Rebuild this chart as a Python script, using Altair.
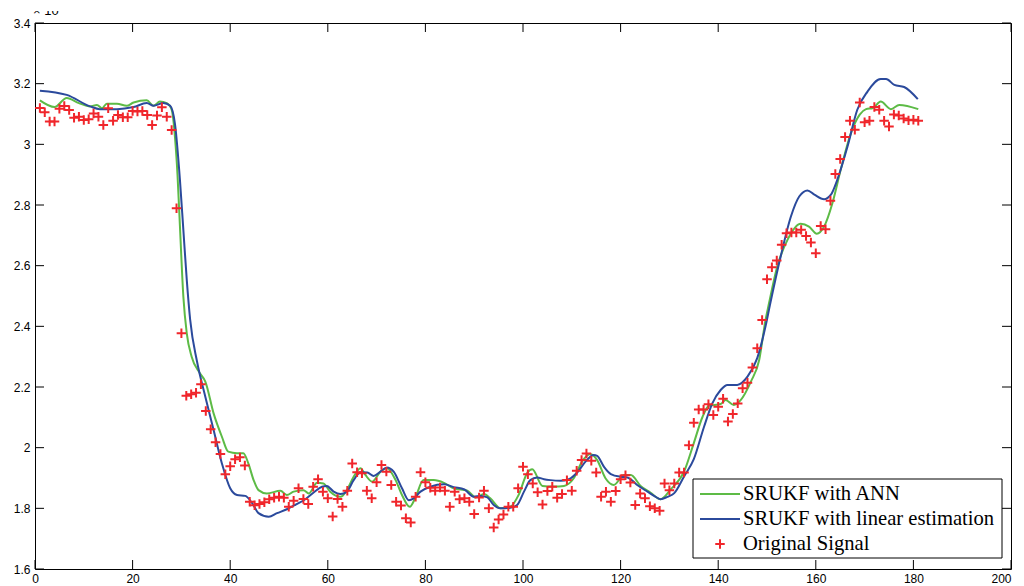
import altair as alt
import pandas as pd

# ---------------- data ----------------
series_names = ["SRUKF with ANN", "SRUKF with linear estimation", "Original Signal"]

x_ticks = [0, 20, 40, 60, 80, 100, 120, 140, 160, 180, 200]
y_ticks = [1.6, 1.8, 2.0, 2.2, 2.4, 2.6, 2.8, 3.0, 3.2, 3.4]

sig_x = list(range(1, 182))
sig_y = [
    3.120, 3.106, 3.075, 3.075, 3.117, 3.126, 3.113, 3.088, 3.091, 3.080,
    3.083, 3.102, 3.091, 3.064, 3.119, 3.078, 3.097, 3.089, 3.089, 3.110,
    3.108, 3.110, 3.097, 3.064, 3.095, 3.122, 3.091, 3.047, 2.789, 2.377,
    2.171, 2.176, 2.181, 2.209, 2.121, 2.061, 2.018, 1.979, 1.912, 1.939,
    1.962, 1.968, 1.941, 1.822, 1.810, 1.814, 1.820, 1.830, 1.835, 1.838,
    1.835, 1.805, 1.825, 1.866, 1.831, 1.814, 1.871, 1.896, 1.855, 1.833,
    1.773, 1.831, 1.805, 1.858, 1.948, 1.919, 1.916, 1.858, 1.833, 1.886,
    1.943, 1.921, 1.877, 1.822, 1.809, 1.767, 1.753, 1.838, 1.919, 1.886,
    1.868, 1.858, 1.869, 1.858, 1.805, 1.855, 1.830, 1.833, 1.822, 1.781,
    1.836, 1.858, 1.800, 1.737, 1.763, 1.780, 1.805, 1.805, 1.866, 1.937,
    1.912, 1.882, 1.853, 1.813, 1.857, 1.871, 1.835, 1.847, 1.893, 1.858,
    1.924, 1.959, 1.981, 1.957, 1.918, 1.838, 1.855, 1.822, 1.857, 1.896,
    1.909, 1.885, 1.811, 1.849, 1.833, 1.807, 1.800, 1.792, 1.882, 1.860,
    1.882, 1.918, 1.918, 2.008, 2.082, 2.126, 2.126, 2.143, 2.108, 2.135,
    2.161, 2.086, 2.111, 2.146, 2.196, 2.214, 2.264, 2.328, 2.421, 2.555,
    2.595, 2.617, 2.669, 2.707, 2.709, 2.709, 2.718, 2.698, 2.676, 2.641,
    2.731, 2.720, 2.814, 2.902, 2.952, 3.024, 3.078, 3.048, 3.138, 3.073,
    3.078, 3.123, 3.114, 3.078, 3.059, 3.098, 3.095, 3.085, 3.079, 3.081,
    3.078,
]

ann_x = [1, 4, 6.5, 9, 11.3, 12.7, 13.7, 14.7, 16.8, 18.8, 20.2, 22.9, 24.3, 25.6, 27, 28,
         28.7, 29.2, 29.7, 30.4, 31.1, 32.1, 33.8, 34.9, 36.6, 38.3, 39.6, 41.4, 42.7, 43.7,
         44.8, 45.8, 47.5, 50.3, 51.6, 53, 55, 56.1, 57.8, 59.1, 60.5, 62.6, 63.9, 65.3,
         66.7, 67.7, 69.1, 70.8, 72.1, 73.9, 75.2, 76.8, 77.9, 79.6, 81.7, 83.8, 85.8, 88.6,
         90.3, 92, 93.3, 95.4, 97.4, 99.1, 100.9, 101.9, 104, 106.3, 108.4, 110.4, 112.1,
         113.8, 115.2, 116.9, 118.6, 120.7, 122.1, 124.1, 126.1, 128.2, 130.3, 133, 135,
         136.8, 138.1, 140.5, 141.5, 143.2, 144.6, 146.7, 148.4, 149.7, 150.4, 152.1, 154.2,
         156.9, 158.6, 160.2, 161.7, 163.4, 165.1, 167.2, 169, 170.3, 171.7, 173.3, 175.4,
         177.1, 181]
ann_y = [3.145, 3.123, 3.153, 3.136, 3.125, 3.130, 3.119, 3.134, 3.134, 3.127, 3.138, 3.145,
         3.127, 3.141, 3.136, 3.114, 3.020, 2.900, 2.730, 2.498, 2.377, 2.300, 2.245, 2.218,
         2.113, 2.036, 1.987, 1.982, 1.982, 1.949, 1.893, 1.860, 1.849, 1.858, 1.844, 1.855,
         1.860, 1.849, 1.884, 1.882, 1.855, 1.838, 1.860, 1.904, 1.932, 1.910, 1.888, 1.921,
         1.932, 1.893, 1.844, 1.805, 1.833, 1.893, 1.893, 1.884, 1.866, 1.858, 1.836, 1.847,
         1.833, 1.800, 1.805, 1.844, 1.918, 1.929, 1.874, 1.872, 1.874, 1.899, 1.954, 1.979,
         1.959, 1.899, 1.877, 1.910, 1.910, 1.874, 1.852, 1.830, 1.863, 1.921, 2.015, 2.102,
         2.138, 2.144, 2.157, 2.141, 2.157, 2.218, 2.289, 2.421, 2.475, 2.597, 2.685, 2.738,
         2.729, 2.705, 2.729, 2.806, 2.916, 3.037, 3.098, 3.116, 3.120, 3.141, 3.116, 3.130,
         3.116]

lin_x = [1, 6.5, 11.3, 13.3, 16.8, 20.2, 22.9, 24.3, 26.3, 27.7, 28.7, 29.7, 30.4, 31.1,
         31.8, 33.2, 34.9, 36.6, 38.3, 40, 41.4, 43.1, 44.5, 45.8, 47.9, 49.6, 51.6, 53.3,
         55.4, 57.1, 58.8, 59.8, 61.2, 62.6, 63.9, 65.3, 66.7, 68.1, 69.4, 70.8, 72.1, 73.5,
         75.2, 76.6, 77.6, 79, 81, 83.8, 85.8, 88, 89.9, 91.3, 92.7, 94, 95.4, 97.4, 98.8,
         100.2, 101.5, 102.9, 104.3, 105.6, 107.7, 109.4, 111.1, 112.8, 114.5, 115.2, 116.6,
         118, 120, 121.4, 123.4, 125.5, 127.2, 128.2, 129.6, 131, 133, 135, 137.1, 138.8,
         140.5, 141.9, 143.9, 146, 148, 149.7, 150.6, 152.8, 154.9, 156.6, 158.3, 159.7,
         161.7, 163.1, 164.4, 166.5, 168.5, 170.6, 173.3, 174.4, 176.1, 178.1, 180.9]
lin_y = [3.177, 3.163, 3.125, 3.116, 3.116, 3.123, 3.136, 3.127, 3.136, 3.127, 3.065, 2.883,
         2.718, 2.553, 2.421, 2.284, 2.168, 2.058, 1.948, 1.866, 1.844, 1.841, 1.817, 1.784,
         1.772, 1.784, 1.797, 1.811, 1.830, 1.852, 1.871, 1.874, 1.855, 1.847, 1.855, 1.893,
         1.919, 1.918, 1.907, 1.921, 1.935, 1.921, 1.866, 1.827, 1.833, 1.855, 1.871, 1.879,
         1.870, 1.862, 1.838, 1.841, 1.836, 1.811, 1.800, 1.802, 1.811, 1.855, 1.893, 1.902,
         1.896, 1.893, 1.891, 1.896, 1.918, 1.954, 1.976, 1.973, 1.937, 1.913, 1.904, 1.902,
         1.877, 1.855, 1.838, 1.830, 1.838, 1.850, 1.905, 1.962, 2.069, 2.146, 2.190, 2.207,
         2.207, 2.234, 2.295, 2.400, 2.470, 2.630, 2.762, 2.828, 2.848, 2.834, 2.819, 2.834,
         2.883, 2.993, 3.114, 3.174, 3.215, 3.215, 3.196, 3.189, 3.149]

# ---------------- styling ----------------
W, H = 976, 546
GREEN = "#5DBB46"
BLUE = "#2B4A9C"
RED = "#F0262B"
PLUS = "M-1,0H1M0,-1V1"
TICK = 9

xs = alt.Scale(domain=[0, 200], nice=False, zero=False)
ys = alt.Scale(domain=[1.6, 3.4], nice=False, zero=False)
x_axis = alt.Axis(values=x_ticks, title=None, ticks=False, domain=False, grid=False,
                  labelFont="Liberation Sans", labelFontSize=12, labelColor="#000",
                  labelPadding=4, labelFlush=False, labelOverlap=False,
                  labelAlign={"condition": {"test": "datum.value >= 200", "value": "right"},
                              "value": "center"})
y_axis = alt.Axis(values=y_ticks, title=None, ticks=False, domain=False, grid=False,
                  format=".1~f", labelFont="Liberation Sans", labelFontSize=12,
                  labelColor="#000", labelPadding=5, labelFlush=False, labelOverlap=False)

df_sig = pd.DataFrame({"x": sig_x, "y": sig_y})
df_ann = pd.DataFrame({"x": ann_x, "y": ann_y})
df_lin = pd.DataFrame({"x": lin_x, "y": lin_y})
df_xt = pd.DataFrame({"v": x_ticks})
df_yt = pd.DataFrame({"v": y_ticks})

ann_line = alt.Chart(df_ann).mark_line(color=GREEN, strokeWidth=2, interpolate="monotone").encode(
    x=alt.X("x:Q", scale=xs, axis=x_axis), y=alt.Y("y:Q", scale=ys, axis=y_axis))
lin_line = alt.Chart(df_lin).mark_line(color=BLUE, strokeWidth=2, interpolate="monotone").encode(
    x=alt.X("x:Q", scale=xs, axis=x_axis), y=alt.Y("y:Q", scale=ys, axis=y_axis))
sig_pts = alt.Chart(df_sig).mark_point(shape=PLUS, size=90, filled=False, stroke=RED,
                                       strokeWidth=2, opacity=1).encode(
    x=alt.X("x:Q", scale=xs, axis=x_axis), y=alt.Y("y:Q", scale=ys, axis=y_axis))

# inward ticks on all four sides
tick_style = dict(color="#000", strokeWidth=1)
xt_bottom = alt.Chart(df_xt).mark_rule(**tick_style).encode(
    x=alt.X("v:Q", scale=xs, axis=x_axis), y=alt.value(H), y2=alt.value(H - TICK))
xt_top = alt.Chart(df_xt).mark_rule(**tick_style).encode(
    x=alt.X("v:Q", scale=xs, axis=x_axis), y=alt.value(0), y2=alt.value(TICK))
yt_left = alt.Chart(df_yt).mark_rule(**tick_style).encode(
    y=alt.Y("v:Q", scale=ys, axis=y_axis), x=alt.value(0), x2=alt.value(TICK))
yt_right = alt.Chart(df_yt).mark_rule(**tick_style).encode(
    y=alt.Y("v:Q", scale=ys, axis=y_axis), x=alt.value(W), x2=alt.value(W - TICK))

# exponent label (its upper half is hidden, as in the reference)
one = pd.DataFrame({"k": [0]})
exp_base = alt.Chart(one).mark_text(align="left", baseline="alphabetic", font="Liberation Sans",
                                    fontSize=13, color="#000").encode(
    x=alt.value(-2), y=alt.value(-8), text=alt.value("× 10"))
exp_sup = alt.Chart(one).mark_text(align="left", baseline="alphabetic", font="Liberation Sans",
                                   fontSize=9, color="#000").encode(
    x=alt.value(28), y=alt.value(-15), text=alt.value("4"))
exp_cover = alt.Chart(one).mark_rect(fill="white", stroke=None).encode(
    x=alt.value(-10), x2=alt.value(60), y=alt.value(-15), y2=alt.value(-12))

# legend (inside plot, bottom right)
LX0, LX1, LY0, LY1 = 658, 967, 456, 535
ROWS = [471, 496, 521]
leg_box = alt.Chart(one).mark_rect(fill="white", stroke="#000", strokeWidth=1).encode(
    x=alt.value(LX0), x2=alt.value(LX1), y=alt.value(LY0), y2=alt.value(LY1))
leg_g = alt.Chart(one).mark_rule(color=GREEN, strokeWidth=2).encode(
    x=alt.value(665), x2=alt.value(705), y=alt.value(ROWS[0]))
leg_b = alt.Chart(one).mark_rule(color=BLUE, strokeWidth=2).encode(
    x=alt.value(665), x2=alt.value(705), y=alt.value(ROWS[1]))
leg_r = alt.Chart(one).mark_point(shape=PLUS, size=90, filled=False, stroke=RED,
                                  strokeWidth=2, opacity=1).encode(
    x=alt.value(685), y=alt.value(ROWS[2]))
leg_texts = [
    alt.Chart(one).mark_text(align="left", baseline="middle", font="Liberation Serif",
                             fontSize=20.6, color="#000").encode(
        x=alt.value(708), y=alt.value(ROWS[i]), text=alt.value(series_names[i]))
    for i in range(3)
]

chart = alt.layer(
    ann_line, lin_line, sig_pts,
    xt_bottom, xt_top, yt_left, yt_right,
    exp_base, exp_sup, exp_cover,
    leg_box, leg_g, leg_b, leg_r, *leg_texts,
).properties(
    width=W, height=H,
    autosize=alt.AutoSizeParams(type="none"),
    padding={"left": 27, "top": 15, "right": 5, "bottom": 17},
).configure_view(stroke="#000", strokeWidth=1)

chart.save("out.html", embed_options={"renderer": "svg", "actions": False})
